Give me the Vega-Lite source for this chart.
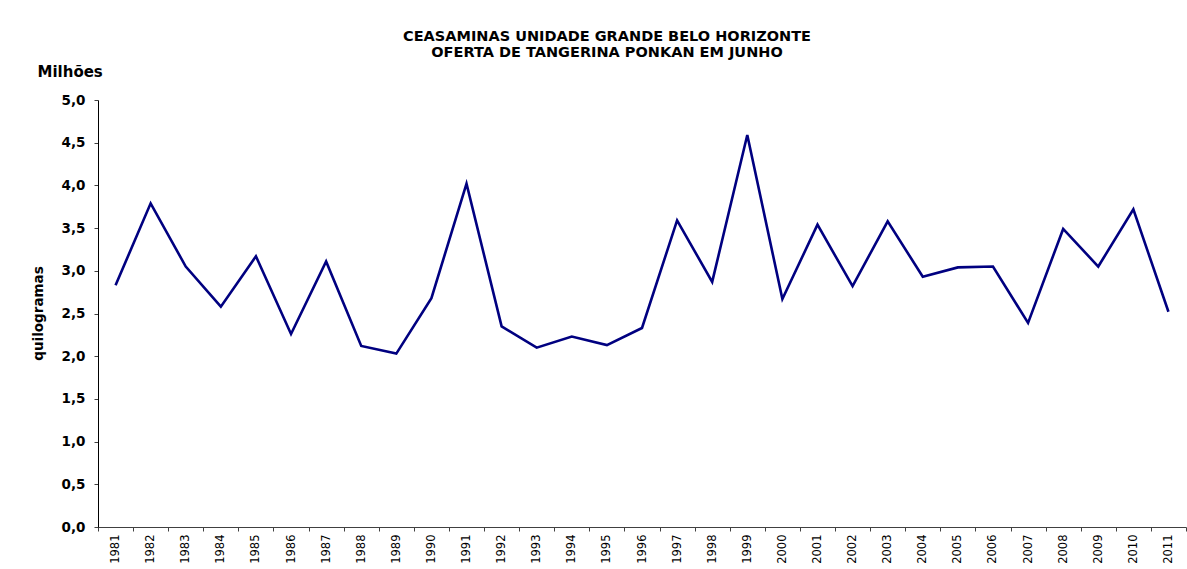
{
  "$schema": "https://vega.github.io/schema/vega-lite/v6.json",
  "width": 1088,
  "height": 427,
  "autosize": {"type": "none"},
  "padding": {"left": 98, "top": 100, "right": 1, "bottom": 42},
  "background": "white",
  "config": {"view": {"stroke": null}, "font": "DejaVu Sans"},
  "title": {
    "text": ["CEASAMINAS UNIDADE GRANDE BELO HORIZONTE", "OFERTA DE TANGERINA PONKAN EM JUNHO"],
    "font": "DejaVu Sans",
    "fontSize": 14.5,
    "fontWeight": "bold",
    "lineHeight": 16,
    "color": "black",
    "anchor": "middle",
    "frame": "group",
    "dx": -35,
    "offset": 4
  },
  "data": {
    "values": [
      {"ano": "1981", "valor": 2.83},
      {"ano": "1982", "valor": 3.79},
      {"ano": "1983", "valor": 3.05},
      {"ano": "1984", "valor": 2.58},
      {"ano": "1985", "valor": 3.17},
      {"ano": "1986", "valor": 2.26},
      {"ano": "1987", "valor": 3.11},
      {"ano": "1988", "valor": 2.12},
      {"ano": "1989", "valor": 2.03},
      {"ano": "1990", "valor": 2.68},
      {"ano": "1991", "valor": 4.02},
      {"ano": "1992", "valor": 2.35},
      {"ano": "1993", "valor": 2.10},
      {"ano": "1994", "valor": 2.23},
      {"ano": "1995", "valor": 2.13},
      {"ano": "1996", "valor": 2.33},
      {"ano": "1997", "valor": 3.59},
      {"ano": "1998", "valor": 2.87},
      {"ano": "1999", "valor": 4.59},
      {"ano": "2000", "valor": 2.67},
      {"ano": "2001", "valor": 3.54},
      {"ano": "2002", "valor": 2.82},
      {"ano": "2003", "valor": 3.58},
      {"ano": "2004", "valor": 2.93},
      {"ano": "2005", "valor": 3.04},
      {"ano": "2006", "valor": 3.05},
      {"ano": "2007", "valor": 2.39},
      {"ano": "2008", "valor": 3.49},
      {"ano": "2009", "valor": 3.05},
      {"ano": "2010", "valor": 3.72},
      {"ano": "2011", "valor": 2.52}
    ]
  },
  "encoding": {
    "x": {
      "field": "ano",
      "type": "ordinal",
      "scale": {"type": "band", "paddingInner": 0, "paddingOuter": 0},
      "axis": {
        "title": null,
        "labelAngle": -90,
        "labelFont": "DejaVu Sans",
        "labelFontSize": 11.5,
        "labelColor": "black",
        "labelPadding": 3,
        "tickBand": "extent",
        "tickSize": 4,
        "tickColor": "#404040",
        "domainColor": "#404040",
        "grid": false
      }
    }
  },
  "layer": [
    {
      "mark": {"type": "line", "color": "#000080", "strokeWidth": 2.6},
      "encoding": {
        "y": {
          "field": "valor",
          "type": "quantitative",
          "scale": {"domain": [0, 5], "nice": false},
          "axis": {
            "title": "quilogramas",
            "titleFont": "DejaVu Sans",
            "titleFontSize": 13.5,
            "titleFontWeight": "bold",
            "titleColor": "black",
            "titleAngle": -90,
            "titleX": -60,
            "titleY": 213,
            "titleAlign": "center",
            "titleBaseline": "middle",
            "values": [0, 0.5, 1, 1.5, 2, 2.5, 3, 3.5, 4, 4.5, 5],
            "labelExpr": "replace(format(datum.value, '.1f'), '.', ',')",
            "labelFont": "DejaVu Sans",
            "labelFontSize": 13.5,
            "labelFontWeight": "bold",
            "labelColor": "black",
            "labelPadding": 9,
            "tickSize": 4,
            "tickColor": "#404040",
            "domainColor": "black",
            "grid": false
          }
        }
      }
    },
    {
      "mark": {"type": "line", "opacity": 0},
      "encoding": {
        "y": {
          "field": "valor",
          "type": "quantitative",
          "scale": {"domain": [0, 5], "nice": false},
          "axis": {
            "orient": "right",
            "title": "Milhões",
            "titleFont": "DejaVu Sans",
            "titleFontSize": 15,
            "titleFontWeight": "bold",
            "titleColor": "black",
            "titleAngle": 0,
            "titleX": -1149,
            "titleY": -24,
            "titleAlign": "left",
            "titleBaseline": "alphabetic",
            "labels": false,
            "ticks": false,
            "domain": false,
            "grid": false
          }
        }
      }
    }
  ],
  "resolve": {"scale": {"y": "independent"}}
}
